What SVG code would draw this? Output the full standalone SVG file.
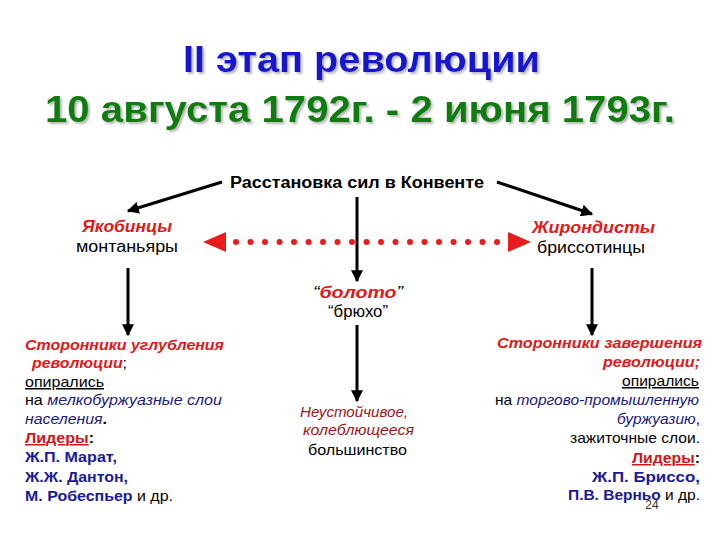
<svg xmlns="http://www.w3.org/2000/svg" width="720" height="540" viewBox="0 0 720 540">
<defs>
<style>
text{font-family:"Liberation Sans",Arial,sans-serif}
.t1{font-size:37px;font-weight:bold;fill:#1414d0}
.t2{font-size:37px;font-weight:bold;fill:#107e10}
.hd{font-size:16px;font-weight:bold;fill:#000}
.party{font-size:16px;font-weight:bold;font-style:italic;fill:#e01818}
.sub{font-size:16px;fill:#000}
.b{font-size:15px;fill:#000}
.ri{font-weight:bold;font-style:italic;fill:#e01818}
.ni{font-style:italic;fill:#1a1a7a}
.nm{font-weight:bold;fill:#1a1a99}
.ld{font-weight:bold;fill:#cc1818;text-decoration:underline}
.u{text-decoration:underline}
.dr{font-style:italic;fill:#a01414}
.conn{stroke:#000;stroke-width:3;fill:none}
.dot{fill:#e81c1c}
</style>
<filter id="sh" x="-5%" y="-20%" width="110%" height="140%">
<feDropShadow dx="2" dy="2" stdDeviation="1" flood-color="#999" flood-opacity="0.7"/>
</filter>
<marker id="ah" viewBox="0 0 10 10" refX="9" refY="5" markerWidth="4" markerHeight="4" orient="auto" markerUnits="strokeWidth">
<path d="M0,0 L10,5 L0,10 Z" fill="#000"/>
</marker>
</defs>
<rect width="720" height="540" fill="#fff"/>

<g id="title" filter="url(#sh)">
<text class="t1" x="361.5" y="72" text-anchor="middle" textLength="357" lengthAdjust="spacingAndGlyphs">II этап революции</text>
<text class="t2" x="360" y="122" text-anchor="middle" textLength="630" lengthAdjust="spacingAndGlyphs">10 августа 1792г. - 2 июня 1793г.</text>
</g>

<g id="convent">
<text class="hd" x="357" y="188" text-anchor="middle" textLength="254" lengthAdjust="spacingAndGlyphs">Расстановка сил в Конвенте</text>
</g>

<g id="jacobins">
<text class="party" x="127" y="232" text-anchor="middle" textLength="90" lengthAdjust="spacingAndGlyphs">Якобинцы</text>
<text class="sub" x="127" y="252" text-anchor="middle" textLength="102" lengthAdjust="spacingAndGlyphs">монтаньяры</text>
</g>

<g id="girondins">
<text class="party" x="593.5" y="233" text-anchor="middle" textLength="123" lengthAdjust="spacingAndGlyphs">Жирондисты</text>
<text class="sub" x="591" y="253" text-anchor="middle" textLength="108" lengthAdjust="spacingAndGlyphs">бриссотинцы</text>
</g>

<g id="swamp">
<text x="358" y="298" text-anchor="middle" style="font-size:16px" textLength="90" lengthAdjust="spacingAndGlyphs"><tspan font-style="italic">“</tspan><tspan class="ri">болото</tspan><tspan font-style="italic">”</tspan></text>
<text x="358" y="317" text-anchor="middle" style="font-size:16px" textLength="60" lengthAdjust="spacingAndGlyphs">“брюхо”</text>
</g>

<g id="majority">
<text class="b dr" x="354" y="417" text-anchor="middle" textLength="108" lengthAdjust="spacingAndGlyphs">Неустойчивое,</text>
<text class="b dr" x="358.5" y="435" text-anchor="middle" textLength="111" lengthAdjust="spacingAndGlyphs">колеблющееся</text>
<text class="b" x="357.5" y="455" text-anchor="middle" textLength="99" lengthAdjust="spacingAndGlyphs">большинство</text>
</g>

<g id="left-block" class="b">
<text x="25" y="350" textLength="199" lengthAdjust="spacingAndGlyphs"><tspan class="ri">Сторонники углубления</tspan></text>
<text x="32" y="368" textLength="95" lengthAdjust="spacingAndGlyphs"><tspan class="ri">революции</tspan>;</text>
<text x="25" y="387" textLength="79" lengthAdjust="spacingAndGlyphs"><tspan class="u">опирались</tspan></text>
<text x="25" y="405" textLength="197" lengthAdjust="spacingAndGlyphs">на <tspan class="ni">мелкобуржуазные слои</tspan></text>
<text x="25" y="424" textLength="82" lengthAdjust="spacingAndGlyphs"><tspan class="ni">населения</tspan><tspan font-weight="bold">.</tspan></text>
<text x="25" y="443" textLength="69" lengthAdjust="spacingAndGlyphs"><tspan class="ld">Лидеры</tspan><tspan font-weight="bold">:</tspan></text>
<text x="25" y="462" textLength="92" lengthAdjust="spacingAndGlyphs"><tspan class="nm">Ж.П. Марат,</tspan></text>
<text x="25" y="482" textLength="103" lengthAdjust="spacingAndGlyphs"><tspan class="nm">Ж.Ж. Дантон,</tspan></text>
<text x="25" y="501" textLength="148" lengthAdjust="spacingAndGlyphs"><tspan class="nm">М. Робеспьер</tspan> и др.</text>
</g>

<g id="right-block" class="b">
<text x="702" y="348" text-anchor="end" textLength="205" lengthAdjust="spacingAndGlyphs"><tspan class="ri">Сторонники завершения</tspan></text>
<text x="700" y="367" text-anchor="end" textLength="97" lengthAdjust="spacingAndGlyphs"><tspan class="ri">революции;</tspan></text>
<text x="699" y="386" text-anchor="end" textLength="77" lengthAdjust="spacingAndGlyphs"><tspan class="u">опирались</tspan></text>
<text x="699" y="405" text-anchor="end" textLength="204" lengthAdjust="spacingAndGlyphs">на <tspan class="ni">торгово-промышленную</tspan></text>
<text x="700" y="424" text-anchor="end" textLength="83" lengthAdjust="spacingAndGlyphs"><tspan class="ni">буржуазию</tspan>,</text>
<text x="700" y="443" text-anchor="end" textLength="130" lengthAdjust="spacingAndGlyphs">зажиточные слои.</text>
<text x="700" y="463" text-anchor="end" textLength="68" lengthAdjust="spacingAndGlyphs"><tspan class="ld">Лидеры</tspan><tspan font-weight="bold">:</tspan></text>
<text x="700" y="482" text-anchor="end" textLength="108" lengthAdjust="spacingAndGlyphs"><tspan class="nm">Ж.П. Бриссо,</tspan></text>
<text x="700" y="500" text-anchor="end" textLength="132" lengthAdjust="spacingAndGlyphs"><tspan class="nm">П.В. Верньо</tspan> и др.</text>
</g>

<g id="page-number">
<text x="652" y="509" text-anchor="middle" style="font-size:12px;fill:#333">24</text>
</g>

<g id="connectors">
<line class="conn" x1="222" y1="182" x2="128" y2="211" marker-end="url(#ah)"/>
<line class="conn" x1="497" y1="182" x2="592" y2="214" marker-end="url(#ah)"/>
<line class="conn" x1="357" y1="197" x2="357" y2="281" marker-end="url(#ah)"/>
<line class="conn" x1="128" y1="268" x2="128" y2="335" marker-end="url(#ah)"/>
<line class="conn" x1="592" y1="268" x2="592" y2="335" marker-end="url(#ah)"/>
<line class="conn" x1="357" y1="325" x2="357" y2="401" marker-end="url(#ah)"/>
<g id="rivalry">
<path class="dot" d="M203,242 L226,232 L226,252 Z"/>
<path class="dot" d="M531,242 L508,232 L508,252 Z"/>
<g class="dot">
<circle cx="236" cy="242" r="3"/><circle cx="250.5" cy="242" r="3"/><circle cx="265" cy="242" r="3"/><circle cx="279.5" cy="242" r="3"/><circle cx="294" cy="242" r="3"/><circle cx="308.5" cy="242" r="3"/><circle cx="323" cy="242" r="3"/><circle cx="337.5" cy="242" r="3"/><circle cx="352" cy="242" r="3"/><circle cx="366.5" cy="242" r="3"/><circle cx="381" cy="242" r="3"/><circle cx="395.5" cy="242" r="3"/><circle cx="410" cy="242" r="3"/><circle cx="424.5" cy="242" r="3"/><circle cx="439" cy="242" r="3"/><circle cx="453.5" cy="242" r="3"/><circle cx="468" cy="242" r="3"/><circle cx="482.5" cy="242" r="3"/><circle cx="497" cy="242" r="3"/>
</g>
</g>
</g>
</svg>
